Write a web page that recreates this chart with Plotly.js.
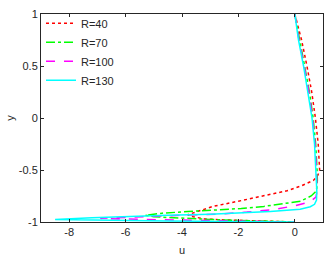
<!DOCTYPE html>
<html><head><meta charset="utf-8">
<script src="https://cdn.plot.ly/plotly-3.0.1.min.js"></script>
<style>html,body{margin:0;padding:0;background:#fff}#c{width:332px;height:259px}</style>
</head><body><div id="c"></div>
<script>
const names = ["R=40", "R=70", "R=100", "R=130"];
const y40 = [1, 0.75, 0.5, 0.25, 0, -0.25, -0.5, -0.55, -0.6, -0.65, -0.7, -0.75, -0.8, -0.85, -0.9, -0.93, -0.95, -0.97, -0.98, -0.99, -1];
const u40 = [0, 0.24, 0.43, 0.6, 0.73, 0.83, 0.88, 0.82, 0.66, 0.25, -0.28, -1.1, -2.0, -2.9, -3.5, -3.8, -3.6, -3.2, -2.5, -1.5, 0];
const y70 = [1, 0.75, 0.5, 0.25, 0, -0.25, -0.5, -0.6, -0.7, -0.75, -0.8, -0.82, -0.85, -0.87, -0.885, -0.9, -0.915, -0.935, -0.95, -0.965, -0.975, -0.985, -0.993, -1];
const u70 = [0, 0.17, 0.35, 0.52, 0.65, 0.74, 0.79, 0.8, 0.77, 0.58, 0.2, -0.28, -1.1, -1.9, -2.7, -3.8, -4.7, -5.3, -5.0, -4.0, -3.0, -2.0, -1.0, 0];
const y100 = [1, 0.75, 0.5, 0.25, 0, -0.25, -0.5, -0.7, -0.76, -0.805, -0.846, -0.88, -0.905, -0.923, -0.935, -0.95, -0.965, -0.975, -0.985, -0.993, -1];
const u100 = [0, 0.15, 0.33, 0.5, 0.63, 0.72, 0.77, 0.79, 0.75, 0.55, -0.04, -0.76, -1.7, -2.64, -4.0, -5.5, -6.9, -5.5, -3.5, -1.8, 0];
const y130 = [1, 0.75, 0.5, 0.25, 0, -0.25, -0.5, -0.7, -0.79, -0.83, -0.853, -0.878, -0.9, -0.915, -0.925, -0.935, -0.945, -0.96, -0.975, -0.985, -0.99, -0.995, -1];
const u130 = [0, 0.13, 0.31, 0.47, 0.61, 0.70, 0.75, 0.78, 0.77, 0.7, 0.55, 0.19, -0.87, -2.0, -3.0, -4.5, -5.8, -7.2, -8.5, -6.5, -4.5, -2.5, 0];
const xTicks = [-8, -6, -4, -2, 0];
const yTicks = [-1, -0.5, 0, 0.5, 1];

const us = [u40, u70, u100, u130];
const ys = [y40, y70, y100, y130];
const colors = ["#ff0000", "#00ff00", "#ff00ff", "#00ffff"];
const dashes = ["dot", "dashdot", "dash", "solid"];

const traces = names.map((n, i) => ({
  x: us[i], y: ys[i], name: n, type: "scatter", mode: "lines",
  line: {color: colors[i], dash: dashes[i], width: 1.5}
}));

const fnt = {family: "Liberation Sans, Arial, sans-serif", size: 11, color: "#262626"};
const axisCommon = {
  showline: true, mirror: "ticks", linecolor: "#262626", linewidth: 1,
  ticks: "inside", ticklen: 3, tickcolor: "#262626", showgrid: false, zeroline: false,
  tickfont: fnt
};

const layout = {
  width: 332, height: 259,
  margin: {l: 41, r: 9, t: 14, b: 37},
  paper_bgcolor: "#fff", plot_bgcolor: "#fff",
  showlegend: true,
  legend: {x: 0.0, y: 1.025, xanchor: "left", yanchor: "top", bgcolor: "rgba(0,0,0,0)",
           font: fnt, tracegroupgap: 0, itemwidth: 30},
  xaxis: Object.assign({}, axisCommon, {range: [-9, 1], tickvals: xTicks, ticktext: xTicks.map(String),
    title: {text: "u", standoff: 9, font: fnt}}),
  yaxis: Object.assign({}, axisCommon, {range: [-1, 1], tickvals: yTicks, ticktext: yTicks.map(String),
    title: {text: "y", standoff: 1, font: fnt}})
};

Plotly.newPlot("c", traces, layout, {staticPlot: true, displayModeBar: false});
</script></body></html>
